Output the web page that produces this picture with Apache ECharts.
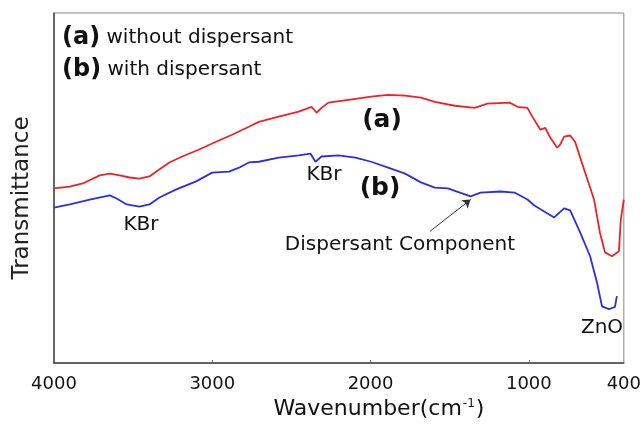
<!DOCTYPE html>
<html>
<head>
<meta charset="utf-8">
<script src="https://cdn.jsdelivr.net/npm/echarts@6/dist/echarts.min.js"></script>
<style>
  html, body { margin: 0; padding: 0; background: #fff; }
  #chart { width: 644px; height: 425px; }
</style>
</head>
<body>
<div id="chart"></div>
<script>
// FT-IR spectra, transmittance in arbitrary units (0 = bottom of frame, 100 = top)
const wnA = [4000, 3900, 3818, 3711, 3648, 3585, 3522, 3460, 3397, 3353, 3271, 3190, 3083, 2976, 2875,
  2769, 2706, 2580, 2454, 2373, 2341, 2310, 2266, 2140, 1996, 1889, 1782, 1682, 1594, 1468, 1342,
  1261, 1122, 1072, 1009, 978, 928, 896, 865, 821, 802, 777, 739, 708, 651, 588, 551, 519, 475,
  431, 419, 400]
const tA = [49.9, 50.4, 51.3, 53.6, 54.1, 53.6, 53.0, 52.7, 53.3, 54.7, 57.3, 59.0, 61.0, 63.2, 65.2,
  67.5, 68.9, 70.4, 71.8, 73.2, 71.5, 72.9, 74.4, 75.2, 76.1, 76.6, 76.4, 75.8, 74.6, 73.5, 72.9,
  74.1, 74.4, 73.2, 72.9, 70.4, 66.7, 67.2, 64.4, 61.5, 62.4, 64.7, 65.0, 63.2, 55.3, 46.7, 37.3,
  31.6, 30.5, 31.9, 41.0, 46.7]

const wnB = [4000, 3900, 3774, 3648, 3604, 3541, 3460, 3397, 3334, 3227, 3102, 3001, 2894, 2831, 2769,
  2706, 2580, 2454, 2379, 2348, 2310, 2203, 2096, 1996, 1889, 1782, 1682, 1594, 1512, 1368, 1305,
  1179, 1091, 1009, 965, 903, 840, 777, 739, 676, 613, 570, 538, 494, 456, 444]
const tB = [44.4, 45.3, 46.7, 47.9, 47.0, 45.3, 44.7, 45.3, 47.3, 49.6, 51.9, 54.4, 54.7, 55.8, 57.3,
  57.5, 58.7, 59.3, 59.8, 57.5, 59.0, 59.3, 58.7, 57.5, 55.8, 54.1, 51.6, 50.1, 49.9, 47.6, 48.7,
  49.0, 48.7, 46.7, 45.0, 43.3, 41.6, 44.2, 43.6, 37.3, 30.5, 23.1, 16.2, 15.4, 16.0, 19.1]

const xTicks = [4000, 3000, 2000, 1000, 400]
const innerTicks = [3000, 2000, 1000]

const chart = echarts.init(document.getElementById('chart'), null, { renderer: 'canvas' })
const font = 'DejaVu Sans'

const zip = (xs, ys) => xs.map((x, i) => [x, ys[i]])

chart.setOption({
  animation: false,
  textStyle: { fontFamily: font },
  grid: {
    left: 54,
    right: 16,
    top: 13,
    bottom: 61,
    show: true,
    borderColor: '#888',
    borderWidth: 1
  },
  xAxis: {
    type: 'value',
    min: 400,
    max: 4000,
    inverse: true,
    name: 'Wavenumber(cm{sup|-1})',
    nameLocation: 'middle',
    nameGap: 35,
    nameTextStyle: {
      fontSize: 22,
      color: '#111',
      padding: [0, 0, 0, 80],
      rich: {
        sup: { fontSize: 12, verticalAlign: 'top', padding: [0, 1, 10, 1], color: '#111' }
      }
    },
    axisLine: { lineStyle: { color: '#444', width: 1.5 } },
    axisTick: { inside: true, length: 3, customValues: innerTicks, lineStyle: { color: '#666' } },
    axisLabel: {
      customValues: xTicks,
      formatter: (v) => String(v),
      fontSize: 18,
      color: '#111',
      margin: 12
    },
    splitLine: { show: false }
  },
  yAxis: {
    type: 'value',
    min: 0,
    max: 100,
    name: 'Transmittance',
    nameLocation: 'middle',
    nameGap: 20,
    nameTextStyle: { fontSize: 23, color: '#222', padding: [0, 20, 0, 0] },
    axisLine: { show: true, lineStyle: { color: '#444', width: 1.5 } },
    axisTick: { show: false },
    axisLabel: { show: false },
    splitLine: { show: false }
  },
  series: [
    {
      name: '(a) without dispersant',
      type: 'line',
      data: zip(wnA, tA),
      showSymbol: false,
      lineStyle: { color: '#ee2226', width: 1.8 },
      itemStyle: { color: '#ee2226' }
    },
    {
      name: '(b) with dispersant',
      type: 'line',
      data: zip(wnB, tB),
      showSymbol: false,
      lineStyle: { color: '#2b2fe0', width: 1.8 },
      itemStyle: { color: '#2b2fe0' },
      markLine: {
        silent: true,
        symbol: ['none', 'arrow'],
        symbolSize: 8,
        label: { show: false },
        lineStyle: { color: '#333', width: 1, type: 'solid' },
        data: [[{ coord: [1625, 37.6] }, { coord: [1368, 46.7] }]]
      }
    }
  ],
  graphic: [
    {
      type: 'text', left: 62, top: 26,
      style: {
        text: '{b|(a)} without dispersant',
        font: '20px "DejaVu Sans"', fill: '#111',
        rich: { b: { fontSize: 24, fontWeight: 'bold', fontFamily: font, fill: '#111' } }
      }
    },
    {
      type: 'text', left: 62, top: 58,
      style: {
        text: '{b|(b)} with dispersant',
        font: '20px "DejaVu Sans"', fill: '#111',
        rich: { b: { fontSize: 24, fontWeight: 'bold', fontFamily: font, fill: '#111' } }
      }
    },
    { type: 'text', x: 382, y: 120, style: { text: '(a)', font: 'bold 25px "DejaVu Sans"', fill: '#111', align: 'center', verticalAlign: 'middle' } },
    { type: 'text', x: 380, y: 188, style: { text: '(b)', font: 'bold 25px "DejaVu Sans"', fill: '#111', align: 'center', verticalAlign: 'middle' } },
    { type: 'text', x: 141, y: 225, style: { text: 'KBr', font: '20px "DejaVu Sans"', fill: '#111', align: 'center', verticalAlign: 'middle' } },
    { type: 'text', x: 324, y: 175, style: { text: 'KBr', font: '20px "DejaVu Sans"', fill: '#111', align: 'center', verticalAlign: 'middle' } },
    { type: 'text', x: 400, y: 245, style: { text: 'Dispersant Component', font: '20px "DejaVu Sans"', fill: '#111', align: 'center', verticalAlign: 'middle' } },
    { type: 'text', x: 602, y: 328, style: { text: 'ZnO', font: '20px "DejaVu Sans"', fill: '#111', align: 'center', verticalAlign: 'middle' } }
  ]
})
</script>
</body>
</html>
